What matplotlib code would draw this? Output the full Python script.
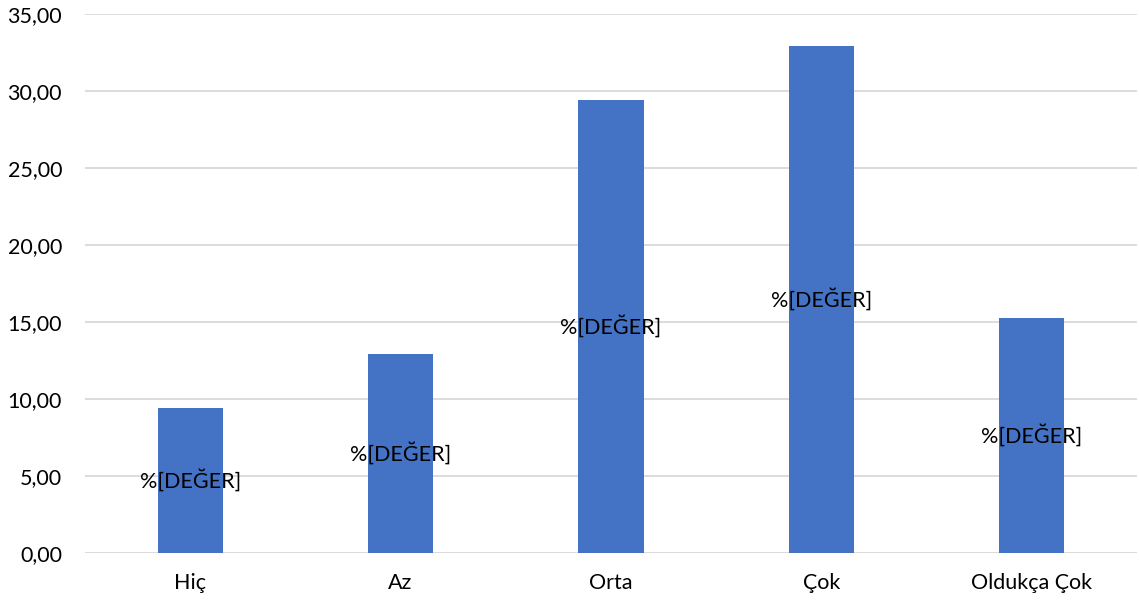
import matplotlib
matplotlib.use("Agg")
import matplotlib.pyplot as plt
from matplotlib.ticker import FuncFormatter, MultipleLocator

categories = ["Hiç", "Az", "Orta", "Çok", "Oldukça Çok"]
values = [9.42, 12.92, 29.42, 32.92, 15.26]
label_text = "%[DEĞER]"

plt.rcParams['font.family'] = ['Lato', 'DejaVu Sans']

fig = plt.figure(figsize=(11.39, 6.04), dpi=100)
ax = fig.add_axes([0.0746, 0.0844, 0.9237, 0.8924])

x = list(range(len(categories)))
bars = ax.bar(x, values, width=0.31, color="#4472C4", zorder=3)
for xi, v in zip(x, values):
    ax.text(xi, v / 2, label_text, ha="center", va="center", fontsize=15.5, color="#000000", zorder=4)

ax.set_xlim(-0.5, len(categories) - 0.5)
ax.set_ylim(0, 35)
ax.yaxis.set_major_locator(MultipleLocator(5))
ax.yaxis.set_major_formatter(FuncFormatter(lambda v, p: f"{v:.2f}".replace(".", ",")))
ax.set_xticks(x)
ax.set_xticklabels(categories)
ax.grid(axis="y", color="#D9D9D9", linewidth=1.3, zorder=0)
for s in ax.spines.values():
    s.set_visible(False)
ax.tick_params(axis="both", length=0, labelsize=15.5, colors="#000000")
ax.tick_params(axis="x", pad=14.5)
ax.tick_params(axis="y", pad=16.5)

fig.savefig("out.png", dpi=100)
